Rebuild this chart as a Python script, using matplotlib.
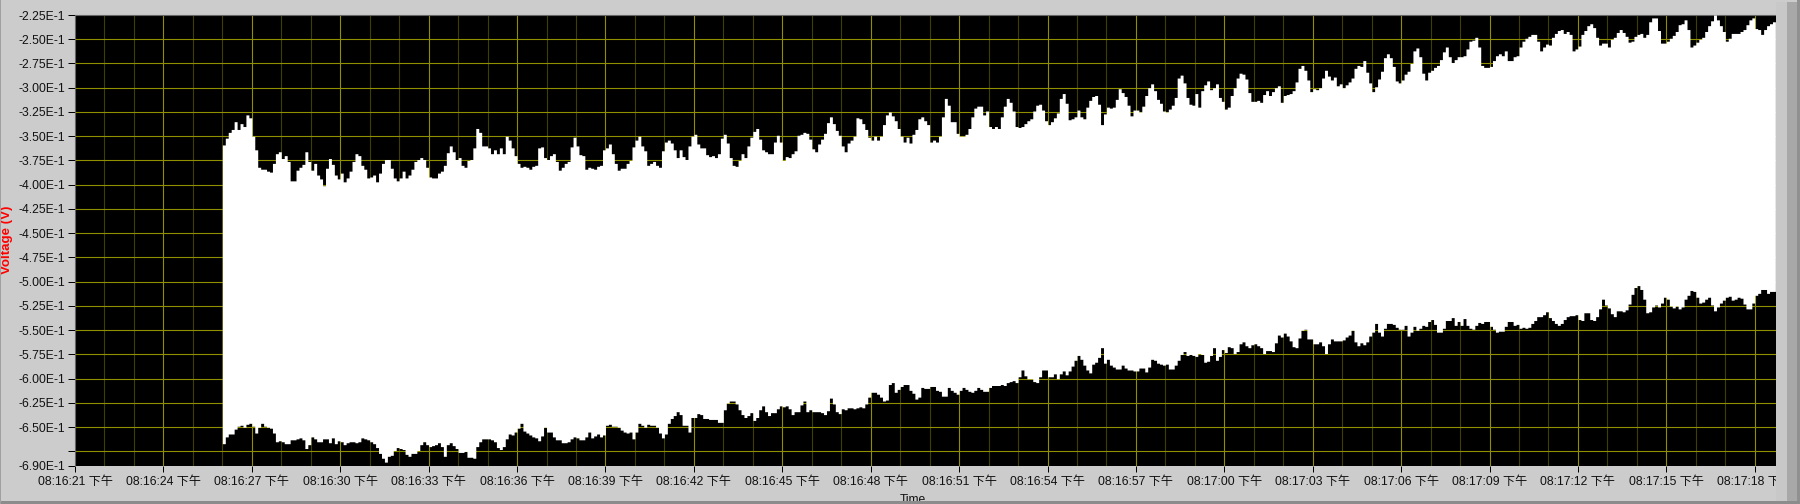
import matplotlib
matplotlib.use("Agg")
import matplotlib.pyplot as plt
from matplotlib.patches import Rectangle
import numpy as np

# envelope of the signal, one row per second, sampled every 0.1 s, in mV below zero
# first sample is 08:16:26
upper_mv = [
359,352,346,343,335,343,337,340,328,331,
350,364,382,384,384,386,387,378,368,366,
373,370,376,396,396,385,382,379,366,376,
385,378,390,394,401,383,373,379,390,394,
388,397,393,386,376,368,370,380,384,393,
392,390,397,388,378,374,374,383,393,396,
393,386,393,390,384,376,374,372,374,382,
392,393,393,388,386,380,367,360,366,374,
372,380,382,375,374,362,342,346,360,360,
362,368,364,368,362,368,350,354,362,370,
378,382,381,382,384,381,380,362,361,372,
374,370,368,376,385,382,378,376,361,351,
360,369,370,384,382,383,384,381,380,364,
362,358,368,378,385,383,383,378,375,361,
354,350,360,365,380,378,376,380,382,365,
356,354,357,364,372,364,371,374,360,350,
348,358,362,362,369,371,370,372,368,352,
348,357,372,380,381,375,368,372,360,351,
345,342,353,364,366,368,368,356,349,356,
375,371,372,368,365,349,348,346,347,353,
363,366,358,353,347,336,330,337,344,349,
360,366,357,354,350,331,332,337,343,351,
354,350,354,350,338,328,325,329,334,342,
350,356,351,357,348,343,332,330,334,338,
356,354,356,350,330,311,318,335,335,347,
350,350,348,342,330,321,319,319,328,324,
340,342,340,342,330,319,311,315,324,340,
341,340,337,334,332,324,318,317,323,334,
338,335,331,326,311,306,316,333,332,330,
323,330,332,320,313,309,308,317,338,327,
320,321,320,312,301,305,309,318,329,323,
323,325,319,308,300,296,303,312,316,324,
325,322,318,310,290,287,295,310,317,318,
306,320,303,297,293,302,300,296,310,314,
322,320,308,300,290,285,286,291,305,314,
314,313,315,307,303,308,304,300,298,315,
308,307,306,303,294,280,277,282,292,304,
301,302,300,290,282,288,292,289,298,296,
300,297,294,290,280,277,278,272,284,295,
304,299,291,283,269,265,269,278,293,295,
292,286,283,275,262,259,268,285,292,284,
282,279,277,271,263,258,268,274,271,268,
268,267,260,252,251,248,258,277,279,279,
278,272,267,265,267,262,272,272,268,267,
258,252,249,247,245,245,252,262,258,255,
256,248,244,241,240,244,242,245,262,260,
257,245,241,236,234,238,248,256,254,254,
258,250,248,243,240,243,247,253,252,247,
245,244,248,245,232,228,228,241,254,254,
252,249,246,242,235,234,230,240,258,256,
253,250,248,242,236,231,225,230,236,242,
252,249,244,244,244,242,240,235,230,228,
239,240,245,240,236,234,232,228,
]
lower_mv = [
667,660,657,657,652,649,648,650,647,646,
649,656,650,646,649,650,651,656,665,664,
665,667,667,663,663,662,661,663,672,668,
660,662,665,665,662,662,666,661,667,664,
665,668,666,665,665,666,665,661,662,663,
665,667,671,677,682,686,680,679,674,671,
672,673,678,680,677,677,674,668,665,668,
670,669,668,666,670,680,668,666,669,672,
676,676,675,681,681,682,670,665,662,662,
662,663,665,671,673,670,662,657,658,655,
651,646,654,656,658,660,661,664,659,650,
655,655,660,663,663,666,666,665,662,660,
661,663,663,660,655,661,659,657,660,658,
648,647,649,649,650,653,655,656,655,662,
655,646,648,650,647,648,648,650,656,661,
657,646,641,638,634,637,648,648,655,640,
640,636,637,641,641,642,642,642,645,645,
632,625,623,623,626,632,637,640,638,635,
643,640,632,628,634,638,635,635,631,628,
629,628,631,637,634,634,627,623,634,632,
634,634,634,635,637,633,620,626,634,636,
631,632,630,630,631,630,629,630,626,619,
614,614,616,619,623,622,606,604,614,611,
608,606,606,612,615,621,619,609,610,610,
608,608,612,613,618,618,609,612,614,616,
612,609,611,613,614,612,609,611,613,613,
609,607,607,607,606,607,604,603,602,604,
598,591,597,600,600,603,604,598,591,591,
598,598,595,600,595,592,596,592,587,581,
576,580,586,591,594,585,583,578,568,584,
580,586,588,590,590,586,589,591,591,592,
592,589,589,593,588,580,581,584,585,586,
585,590,590,586,581,575,572,576,575,576,
577,574,575,583,582,576,568,581,577,570,
573,567,568,574,572,564,562,566,568,565,
564,566,568,574,571,571,572,563,555,557,
553,556,561,567,568,558,550,549,559,559,
564,564,562,566,574,564,559,561,561,561,
560,557,555,550,562,566,563,565,562,556,
552,543,552,556,548,543,543,544,547,549,
549,545,556,552,546,550,548,545,546,541,
539,544,552,552,548,540,540,537,545,541,
545,538,545,548,549,545,542,543,541,541,
546,549,552,551,551,546,541,541,545,544,
548,547,548,547,543,540,536,536,534,531,
537,540,543,545,543,539,536,535,535,534,
539,540,532,532,539,540,536,528,518,524,
527,533,536,530,530,531,529,523,513,506,
504,508,518,532,531,526,524,526,522,516,
518,525,527,525,528,526,518,514,509,510,
516,522,521,518,516,524,530,526,522,519,
516,515,519,518,516,517,523,528,528,522,
514,512,508,508,512,510,510,519,
]

start_s = 5
major_sec = [0, 3, 6, 9, 12, 15, 18, 21, 24, 27, 30, 33, 36, 39, 42, 45, 48, 51, 54, 57]
time_labels = ["08:16:21 下午", "08:16:24 下午", "08:16:27 下午", "08:16:30 下午", "08:16:33 下午",
               "08:16:36 下午", "08:16:39 下午", "08:16:42 下午", "08:16:45 下午", "08:16:48 下午",
               "08:16:51 下午", "08:16:54 下午", "08:16:57 下午", "08:17:00 下午", "08:17:03 下午",
               "08:17:06 下午", "08:17:09 下午", "08:17:12 下午", "08:17:15 下午", "08:17:18 下午"]
volt_ticks = [-0.225, -0.25, -0.275, -0.30, -0.325, -0.35, -0.375, -0.40, -0.425, -0.45, -0.475,
              -0.50, -0.525, -0.55, -0.575, -0.60, -0.625, -0.65, -0.675, -0.69]
volt_labels = ["-2.25E-1", "-2.50E-1", "-2.75E-1", "-3.00E-1", "-3.25E-1", "-3.50E-1", "-3.75E-1",
               "-4.00E-1", "-4.25E-1", "-4.50E-1", "-4.75E-1", "-5.00E-1", "-5.25E-1", "-5.50E-1",
               "-5.75E-1", "-6.00E-1", "-6.25E-1", "-6.50E-1", "", "-6.90E-1"]
x_end = 57.72

plt.rcParams['font.family'] = ['Liberation Sans', 'Noto Sans CJK SC']
W, H = 1800, 504
GRID = '#8f8f00'
GRID_MINOR = '#403f00'

t = start_s + np.arange(len(upper_mv)) / 10
upper = -np.array(upper_mv) / 1000
lower = -np.array(lower_mv) / 1000

fig = plt.figure(figsize=(W / 100, H / 100), dpi=100, facecolor='#cccccc')
ax = fig.add_axes([75 / W, 1 - 466 / H, (1776 - 75) / W, (466 - 15) / H], facecolor='black')
ax.fill_between(t, lower, upper, step='post', color='white', lw=0, zorder=3)
ax.set_xlim(0, x_end)
ax.set_ylim(-0.69, -0.225)

ax.set_xticks(major_sec + [x_end])
ax.set_xticklabels(time_labels + [""], fontsize=8.7, color='#111111')
ax.set_xticks([s for s in range(1, 58) if s % 3 != 0], minor=True)
ax.set_yticks(volt_ticks)
ax.set_yticklabels(volt_labels, fontsize=8.7, color='#111111')
ax.tick_params(axis='x', which='major', length=4, width=0.72, color='black', pad=3)
ax.tick_params(axis='x', which='minor', length=0)
ax.tick_params(axis='y', length=5, width=0.72, color='black', pad=2)
ax.set_axisbelow(True)
ax.grid(True, which='major', color=GRID, lw=0.8)
ax.grid(True, which='minor', axis='x', color=GRID_MINOR, lw=0.8)
# no grid line on the plot border
ax.get_xgridlines()[0].set_visible(False)
ax.get_xgridlines()[-1].set_visible(False)
ax.get_ygridlines()[0].set_visible(False)
ax.get_ygridlines()[-1].set_visible(False)
for side in ['right', 'bottom']:
    ax.spines[side].set_visible(False)
for side in ['top', 'left']:
    ax.spines[side].set_color('#666666')
    ax.spines[side].set_linewidth(0.8)

fig.text(7 / W, 1 - 240 / H, "Voltage (V)", color='#ff0000', fontsize=9.6, fontweight='bold',
         rotation=90, ha='center', va='center')
fig.text(913 / W, 1 - 494 / H, "Time", color='#111111', fontsize=8.7, ha='center', va='top')

# window frame bands on the right and bottom
frame = [(1776, 2, 11, 502, '#c8c8c8'), (1787, 2, 10, 502, '#a8a8a8'), (1797, 0, 3, 504, '#909090'),
         (0, 501, 1800, 3, '#8c8c8c'), (0, 0, 1, 504, '#a0a0a0')]
for x0, y0, w, h, col in frame:
    fig.add_artist(Rectangle((x0 / W, 1 - (y0 + h) / H), w / W, h / H, transform=fig.transFigure,
                             facecolor=col, edgecolor='none', zorder=5))

plt.savefig("out.png", dpi=100, facecolor=fig.get_facecolor())
